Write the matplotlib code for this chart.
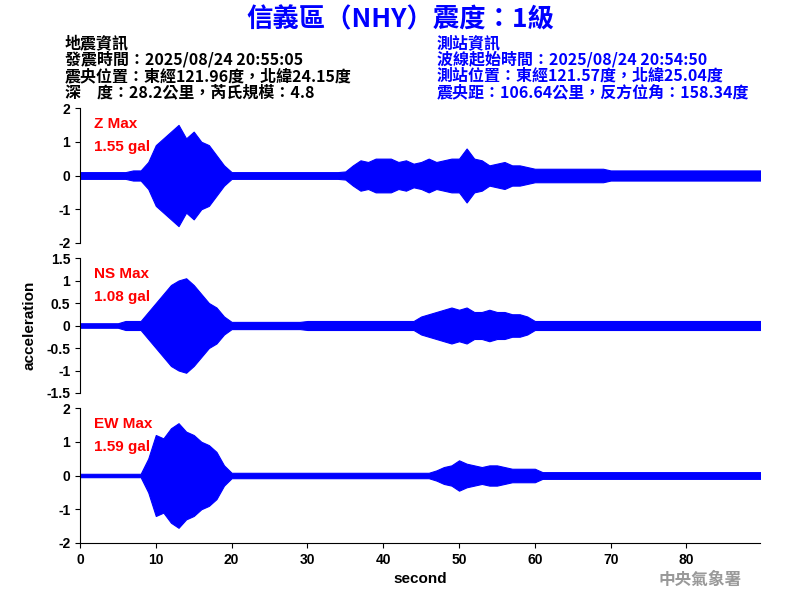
import numpy as np
import matplotlib.pyplot as plt

plt.rcParams['font.family'] = ['Liberation Sans', 'Noto Sans CJK TC', 'DejaVu Sans']

# peak amplitude per second (gal)
seconds = np.arange(91)
z_env = [0.1]*7 + [0.15, 0.15, 0.4, 0.9, 1.1, 1.3, 1.5, 1.1, 1.3, 1.0, 0.9, 0.6, 0.3] + [0.1]*15 + \
    [0.12, 0.3, 0.45, 0.4, 0.5, 0.5, 0.5, 0.4, 0.45, 0.35, 0.4, 0.5, 0.4, 0.45, 0.5, 0.5, 0.8,
     0.5, 0.45, 0.3, 0.35, 0.4, 0.3, 0.3, 0.25] + [0.2]*10 + [0.15]*21
ns_env = [0.05]*6 + [0.1]*3 + [0.3, 0.5, 0.7, 0.9, 1.0, 1.05, 0.9, 0.7, 0.5, 0.4, 0.2] + [0.08]*10 + \
    [0.1]*15 + [0.2, 0.25, 0.3, 0.35, 0.4, 0.35, 0.4, 0.3, 0.3, 0.35, 0.3, 0.3, 0.25, 0.25, 0.2] + [0.1]*31
ew_env = [0.05]*9 + [0.5, 1.2, 1.1, 1.4, 1.55, 1.3, 1.2, 1.0, 0.9, 0.7, 0.3] + [0.08]*27 + \
    [0.15, 0.25, 0.3, 0.45, 0.35, 0.3, 0.25, 0.3, 0.3, 0.25, 0.2, 0.2, 0.2, 0.2] + [0.1]*30

channels = [("Z Max", "1.55 gal", z_env, 2, [-2, -1, 0, 1, 2]),
            ("NS Max", "1.08 gal", ns_env, 1.5, [-1.5, -1, -0.5, 0, 0.5, 1, 1.5]),
            ("EW Max", "1.59 gal", ew_env, 2, [-2, -1, 0, 1, 2])]

fig = plt.figure(figsize=(8, 6), dpi=100)
tops = [108, 258, 408]
for i, (name, peak, env, lim, ticks) in enumerate(channels):
    top = tops[i]
    ax = fig.add_axes([80/800, 1 - (top + 135)/600, 680/800, 135/600])
    env = np.array(env[:len(seconds)])
    ax.fill_between(seconds, -env, env, color='blue', lw=0.8)
    ax.plot(seconds, np.zeros(len(seconds)), color='blue', lw=1)
    ax.set_xlim(0, 89.7)
    ax.set_ylim(-lim, lim)
    ax.set_yticks(ticks)
    ax.set_yticklabels([f"{t:g}" for t in ticks], fontsize=10, fontweight='bold')
    for s in ['top', 'right']:
        ax.spines[s].set_visible(False)
    if i < 2:
        ax.spines['bottom'].set_visible(False)
        ax.set_xticks([])
    else:
        ax.set_xticks(range(0, 90, 10))
        ax.tick_params(axis='x', labelsize=10)
        for lb in ax.get_xticklabels():
            lb.set_fontweight('bold')
        ax.set_xlabel("second", fontsize=11, fontweight='bold')
    ax.text(0.02, 0.93, name, transform=ax.transAxes, color='red', fontsize=11,
            fontweight='bold', va='top')
    ax.text(0.02, 0.76, peak, transform=ax.transAxes, color='red', fontsize=11,
            fontweight='bold', va='top')

fig.text(30/800, 1 - 325/600, "acceleration", rotation=90, ha='center', va='center',
         fontsize=11, fontweight='bold')

cjk = ['Noto Sans CJK TC', 'DejaVu Sans']
fig.text(0.5, 1 - 20/600, "信義區（NHY）震度：1級", ha='center', va='center',
         color='blue', fontsize=19, fontweight='bold', family=cjk)
left = ["地震資訊", "發震時間：2025/08/24 20:55:05", "震央位置：東經121.96度，北緯24.15度",
        "深　度：28.2公里，芮氏規模：4.8"]
right = ["測站資訊", "波線起始時間：2025/08/24 20:54:50", "測站位置：東經121.57度，北緯25.04度",
         "震央距：106.64公里，反方位角：158.34度"]
for j, (l, r) in enumerate(zip(left, right)):
    y = 1 - (43 + j*16.5)/600
    fig.text(65/800, y, l, color='black', fontsize=11.5, fontweight='bold', va='center', family=cjk)
    fig.text(437/800, y, r, color='blue', fontsize=11.5, fontweight='bold', va='center', family=cjk)

fig.text(700/800, 1 - 580/600, "中央氣象署", color='#999999', fontsize=12, fontweight='bold',
         ha='center', va='center', family=cjk)

fig.savefig("out.png", dpi=100)
